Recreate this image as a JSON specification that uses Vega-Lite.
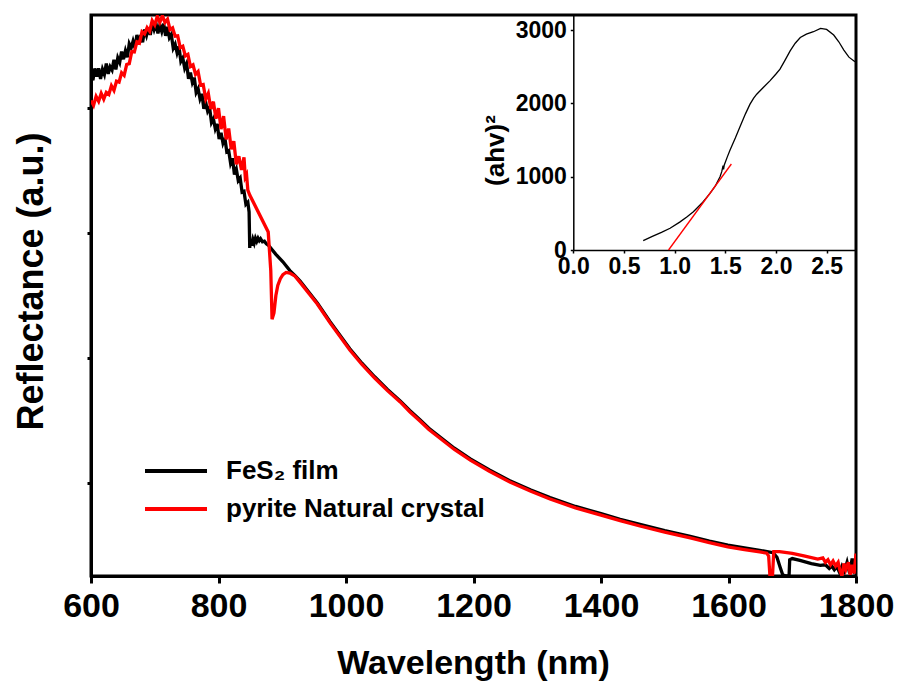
{
"$schema": "https://vega.github.io/schema/vega-lite/v6.json",
"width": 765, "height": 561,
"autosize": {"type": "none"},
"padding": {"left": 91, "top": 15, "right": 42, "bottom": 111},
"background": "white",
"config": {
  "font": "Liberation Sans",
  "view": {"stroke": "black", "strokeWidth": 3},
  "axis": {"domainColor": "black", "tickColor": "black", "labelColor": "black", "titleColor": "black", "grid": false}
},
"datasets": {
"main": [
{"sample":"FeS₂ film","wavelength":600,"reflectance":4.291},{"sample":"FeS₂ film","wavelength":603,"reflectance":4.226},{"sample":"FeS₂ film","wavelength":606,"reflectance":4.321},{"sample":"FeS₂ film","wavelength":609,"reflectance":4.256},{"sample":"FeS₂ film","wavelength":612,"reflectance":4.322},{"sample":"FeS₂ film","wavelength":615,"reflectance":4.238},{"sample":"FeS₂ film","wavelength":618,"reflectance":4.315},{"sample":"FeS₂ film","wavelength":621,"reflectance":4.273},{"sample":"FeS₂ film","wavelength":624,"reflectance":4.360},{"sample":"FeS₂ film","wavelength":627,"reflectance":4.278},{"sample":"FeS₂ film","wavelength":630,"reflectance":4.335},{"sample":"FeS₂ film","wavelength":633,"reflectance":4.308},{"sample":"FeS₂ film","wavelength":636,"reflectance":4.391},{"sample":"FeS₂ film","wavelength":639,"reflectance":4.313},{"sample":"FeS₂ film","wavelength":642,"reflectance":4.406},{"sample":"FeS₂ film","wavelength":645,"reflectance":4.369},{"sample":"FeS₂ film","wavelength":648,"reflectance":4.457},{"sample":"FeS₂ film","wavelength":651,"reflectance":4.395},{"sample":"FeS₂ film","wavelength":654,"reflectance":4.463},{"sample":"FeS₂ film","wavelength":657,"reflectance":4.411},{"sample":"FeS₂ film","wavelength":660,"reflectance":4.519},{"sample":"FeS₂ film","wavelength":663,"reflectance":4.485},{"sample":"FeS₂ film","wavelength":666,"reflectance":4.540},{"sample":"FeS₂ film","wavelength":669,"reflectance":4.485},{"sample":"FeS₂ film","wavelength":672,"reflectance":4.590},{"sample":"FeS₂ film","wavelength":675,"reflectance":4.525},{"sample":"FeS₂ film","wavelength":678,"reflectance":4.589},{"sample":"FeS₂ film","wavelength":681,"reflectance":4.531},{"sample":"FeS₂ film","wavelength":684,"reflectance":4.633},{"sample":"FeS₂ film","wavelength":687,"reflectance":4.586},{"sample":"FeS₂ film","wavelength":690,"reflectance":4.648},{"sample":"FeS₂ film","wavelength":693,"reflectance":4.590},{"sample":"FeS₂ film","wavelength":696,"reflectance":4.687},{"sample":"FeS₂ film","wavelength":699,"reflectance":4.633},{"sample":"FeS₂ film","wavelength":702,"reflectance":4.680},{"sample":"FeS₂ film","wavelength":705,"reflectance":4.603},{"sample":"FeS₂ film","wavelength":708,"reflectance":4.670},{"sample":"FeS₂ film","wavelength":711,"reflectance":4.618},{"sample":"FeS₂ film","wavelength":714,"reflectance":4.680},{"sample":"FeS₂ film","wavelength":717,"reflectance":4.583},{"sample":"FeS₂ film","wavelength":720,"reflectance":4.655},{"sample":"FeS₂ film","wavelength":723,"reflectance":4.568},{"sample":"FeS₂ film","wavelength":726,"reflectance":4.593},{"sample":"FeS₂ film","wavelength":729,"reflectance":4.484},{"sample":"FeS₂ film","wavelength":732,"reflectance":4.516},{"sample":"FeS₂ film","wavelength":735,"reflectance":4.447},{"sample":"FeS₂ film","wavelength":738,"reflectance":4.498},{"sample":"FeS₂ film","wavelength":741,"reflectance":4.378},{"sample":"FeS₂ film","wavelength":744,"reflectance":4.405},{"sample":"FeS₂ film","wavelength":747,"reflectance":4.323},{"sample":"FeS₂ film","wavelength":750,"reflectance":4.360},{"sample":"FeS₂ film","wavelength":753,"reflectance":4.239},{"sample":"FeS₂ film","wavelength":756,"reflectance":4.289},{"sample":"FeS₂ film","wavelength":759,"reflectance":4.209},{"sample":"FeS₂ film","wavelength":762,"reflectance":4.248},{"sample":"FeS₂ film","wavelength":765,"reflectance":4.128},{"sample":"FeS₂ film","wavelength":768,"reflectance":4.158},{"sample":"FeS₂ film","wavelength":771,"reflectance":4.078},{"sample":"FeS₂ film","wavelength":774,"reflectance":4.118},{"sample":"FeS₂ film","wavelength":777,"reflectance":3.998},{"sample":"FeS₂ film","wavelength":780,"reflectance":4.048},{"sample":"FeS₂ film","wavelength":783,"reflectance":3.978},{"sample":"FeS₂ film","wavelength":786,"reflectance":4.008},{"sample":"FeS₂ film","wavelength":789,"reflectance":3.888},{"sample":"FeS₂ film","wavelength":792,"reflectance":3.918},{"sample":"FeS₂ film","wavelength":795,"reflectance":3.837},{"sample":"FeS₂ film","wavelength":798,"reflectance":3.876},{"sample":"FeS₂ film","wavelength":801,"reflectance":3.756},{"sample":"FeS₂ film","wavelength":804,"reflectance":3.805},{"sample":"FeS₂ film","wavelength":807,"reflectance":3.724},{"sample":"FeS₂ film","wavelength":810,"reflectance":3.764},{"sample":"FeS₂ film","wavelength":813,"reflectance":3.653},{"sample":"FeS₂ film","wavelength":816,"reflectance":3.662},{"sample":"FeS₂ film","wavelength":819,"reflectance":3.561},{"sample":"FeS₂ film","wavelength":822,"reflectance":3.601},{"sample":"FeS₂ film","wavelength":825,"reflectance":3.471},{"sample":"FeS₂ film","wavelength":828,"reflectance":3.512},{"sample":"FeS₂ film","wavelength":831,"reflectance":3.422},{"sample":"FeS₂ film","wavelength":834,"reflectance":3.443},{"sample":"FeS₂ film","wavelength":837,"reflectance":3.329},{"sample":"FeS₂ film","wavelength":840,"reflectance":3.335},{"sample":"FeS₂ film","wavelength":843,"reflectance":3.231},{"sample":"FeS₂ film","wavelength":846,"reflectance":3.248},{"sample":"FeS₂ film","wavelength":848,"reflectance":3.170},{"sample":"FeS₂ film","wavelength":849,"reflectance":2.881},{"sample":"FeS₂ film","wavelength":850,"reflectance":2.95},{"sample":"FeS₂ film","wavelength":852,"reflectance":2.90},{"sample":"FeS₂ film","wavelength":854,"reflectance":2.95},{"sample":"FeS₂ film","wavelength":856,"reflectance":2.92},{"sample":"FeS₂ film","wavelength":858,"reflectance":2.96},{"sample":"FeS₂ film","wavelength":860,"reflectance":2.935},{"sample":"FeS₂ film","wavelength":862,"reflectance":2.96},{"sample":"FeS₂ film","wavelength":864,"reflectance":2.94},{"sample":"FeS₂ film","wavelength":866,"reflectance":2.955},{"sample":"FeS₂ film","wavelength":869,"reflectance":2.93},{"sample":"FeS₂ film","wavelength":872,"reflectance":2.935},{"sample":"FeS₂ film","wavelength":875,"reflectance":2.915},{"sample":"FeS₂ film","wavelength":878,"reflectance":2.905},{"sample":"FeS₂ film","wavelength":890,"reflectance":2.83},{"sample":"FeS₂ film","wavelength":901,"reflectance":2.77},{"sample":"FeS₂ film","wavelength":912,"reflectance":2.70},{"sample":"FeS₂ film","wavelength":920,"reflectance":2.66},{"sample":"FeS₂ film","wavelength":928,"reflectance":2.615},{"sample":"FeS₂ film","wavelength":955,"reflectance":2.44},{"sample":"FeS₂ film","wavelength":975,"reflectance":2.29},{"sample":"FeS₂ film","wavelength":1006,"reflectance":2.073},{"sample":"FeS₂ film","wavelength":1025,"reflectance":1.957},{"sample":"FeS₂ film","wavelength":1045,"reflectance":1.848},{"sample":"FeS₂ film","wavelength":1065,"reflectance":1.747},{"sample":"FeS₂ film","wavelength":1085,"reflectance":1.655},{"sample":"FeS₂ film","wavelength":1100,"reflectance":1.578},{"sample":"FeS₂ film","wavelength":1116,"reflectance":1.503},{"sample":"FeS₂ film","wavelength":1130,"reflectance":1.435},{"sample":"FeS₂ film","wavelength":1147,"reflectance":1.366},{"sample":"FeS₂ film","wavelength":1170,"reflectance":1.275},{"sample":"FeS₂ film","wavelength":1195,"reflectance":1.19},{"sample":"FeS₂ film","wavelength":1225,"reflectance":1.10},{"sample":"FeS₂ film","wavelength":1257,"reflectance":1.014},{"sample":"FeS₂ film","wavelength":1290,"reflectance":0.94},{"sample":"FeS₂ film","wavelength":1320,"reflectance":0.879},{"sample":"FeS₂ film","wavelength":1360,"reflectance":0.808},{"sample":"FeS₂ film","wavelength":1400,"reflectance":0.75},{"sample":"FeS₂ film","wavelength":1430,"reflectance":0.705},{"sample":"FeS₂ film","wavelength":1461,"reflectance":0.664},{"sample":"FeS₂ film","wavelength":1500,"reflectance":0.614},{"sample":"FeS₂ film","wavelength":1540,"reflectance":0.568},{"sample":"FeS₂ film","wavelength":1570,"reflectance":0.53},{"sample":"FeS₂ film","wavelength":1599,"reflectance":0.497},{"sample":"FeS₂ film","wavelength":1625,"reflectance":0.475},{"sample":"FeS₂ film","wavelength":1649,"reflectance":0.456},{"sample":"FeS₂ film","wavelength":1670,"reflectance":0.437},{"sample":"FeS₂ film","wavelength":1676,"reflectance":0.40},{"sample":"FeS₂ film","wavelength":1681,"reflectance":0.32},{"sample":"FeS₂ film","wavelength":1685,"reflectance":0.26},{"sample":"FeS₂ film","wavelength":1690,"reflectance":0.25},{"sample":"FeS₂ film","wavelength":1695,"reflectance":0.25},{"sample":"FeS₂ film","wavelength":1696,"reflectance":0.38},{"sample":"FeS₂ film","wavelength":1700,"reflectance":0.39},{"sample":"FeS₂ film","wavelength":1712,"reflectance":0.375},{"sample":"FeS₂ film","wavelength":1730,"reflectance":0.35},{"sample":"FeS₂ film","wavelength":1744,"reflectance":0.335},{"sample":"FeS₂ film","wavelength":1752,"reflectance":0.34},{"sample":"FeS₂ film","wavelength":1758,"reflectance":0.31},{"sample":"FeS₂ film","wavelength":1762,"reflectance":0.33},{"sample":"FeS₂ film","wavelength":1766,"reflectance":0.30},{"sample":"FeS₂ film","wavelength":1770,"reflectance":0.325},{"sample":"FeS₂ film","wavelength":1774,"reflectance":0.28},{"sample":"FeS₂ film","wavelength":1778,"reflectance":0.33},{"sample":"FeS₂ film","wavelength":1782,"reflectance":0.29},{"sample":"FeS₂ film","wavelength":1786,"reflectance":0.36},{"sample":"FeS₂ film","wavelength":1790,"reflectance":0.27},{"sample":"FeS₂ film","wavelength":1794,"reflectance":0.39},{"sample":"FeS₂ film","wavelength":1797,"reflectance":0.30},{"sample":"FeS₂ film","wavelength":1800,"reflectance":0.33},
{"sample":"pyrite Natural crystal","wavelength":600,"reflectance":4.064},{"sample":"pyrite Natural crystal","wavelength":604,"reflectance":4.025},{"sample":"pyrite Natural crystal","wavelength":608,"reflectance":4.097},{"sample":"pyrite Natural crystal","wavelength":612,"reflectance":4.058},{"sample":"pyrite Natural crystal","wavelength":616,"reflectance":4.121},{"sample":"pyrite Natural crystal","wavelength":620,"reflectance":4.075},{"sample":"pyrite Natural crystal","wavelength":624,"reflectance":4.129},{"sample":"pyrite Natural crystal","wavelength":628,"reflectance":4.113},{"sample":"pyrite Natural crystal","wavelength":632,"reflectance":4.182},{"sample":"pyrite Natural crystal","wavelength":636,"reflectance":4.145},{"sample":"pyrite Natural crystal","wavelength":640,"reflectance":4.219},{"sample":"pyrite Natural crystal","wavelength":644,"reflectance":4.212},{"sample":"pyrite Natural crystal","wavelength":648,"reflectance":4.287},{"sample":"pyrite Natural crystal","wavelength":652,"reflectance":4.265},{"sample":"pyrite Natural crystal","wavelength":656,"reflectance":4.353},{"sample":"pyrite Natural crystal","wavelength":660,"reflectance":4.360},{"sample":"pyrite Natural crystal","wavelength":664,"reflectance":4.457},{"sample":"pyrite Natural crystal","wavelength":668,"reflectance":4.454},{"sample":"pyrite Natural crystal","wavelength":672,"reflectance":4.535},{"sample":"pyrite Natural crystal","wavelength":676,"reflectance":4.525},{"sample":"pyrite Natural crystal","wavelength":680,"reflectance":4.615},{"sample":"pyrite Natural crystal","wavelength":684,"reflectance":4.597},{"sample":"pyrite Natural crystal","wavelength":688,"reflectance":4.649},{"sample":"pyrite Natural crystal","wavelength":692,"reflectance":4.620},{"sample":"pyrite Natural crystal","wavelength":696,"reflectance":4.705},{"sample":"pyrite Natural crystal","wavelength":700,"reflectance":4.670},{"sample":"pyrite Natural crystal","wavelength":704,"reflectance":4.740},{"sample":"pyrite Natural crystal","wavelength":708,"reflectance":4.691},{"sample":"pyrite Natural crystal","wavelength":712,"reflectance":4.745},{"sample":"pyrite Natural crystal","wavelength":716,"reflectance":4.690},{"sample":"pyrite Natural crystal","wavelength":720,"reflectance":4.716},{"sample":"pyrite Natural crystal","wavelength":724,"reflectance":4.632},{"sample":"pyrite Natural crystal","wavelength":728,"reflectance":4.646},{"sample":"pyrite Natural crystal","wavelength":732,"reflectance":4.580},{"sample":"pyrite Natural crystal","wavelength":736,"reflectance":4.583},{"sample":"pyrite Natural crystal","wavelength":740,"reflectance":4.487},{"sample":"pyrite Natural crystal","wavelength":744,"reflectance":4.499},{"sample":"pyrite Natural crystal","wavelength":748,"reflectance":4.421},{"sample":"pyrite Natural crystal","wavelength":752,"reflectance":4.434},{"sample":"pyrite Natural crystal","wavelength":756,"reflectance":4.337},{"sample":"pyrite Natural crystal","wavelength":760,"reflectance":4.350},{"sample":"pyrite Natural crystal","wavelength":764,"reflectance":4.273},{"sample":"pyrite Natural crystal","wavelength":768,"reflectance":4.296},{"sample":"pyrite Natural crystal","wavelength":772,"reflectance":4.187},{"sample":"pyrite Natural crystal","wavelength":776,"reflectance":4.192},{"sample":"pyrite Natural crystal","wavelength":780,"reflectance":4.076},{"sample":"pyrite Natural crystal","wavelength":784,"reflectance":4.121},{"sample":"pyrite Natural crystal","wavelength":788,"reflectance":3.996},{"sample":"pyrite Natural crystal","wavelength":792,"reflectance":4.055},{"sample":"pyrite Natural crystal","wavelength":796,"reflectance":3.918},{"sample":"pyrite Natural crystal","wavelength":800,"reflectance":4.002},{"sample":"pyrite Natural crystal","wavelength":804,"reflectance":3.835},{"sample":"pyrite Natural crystal","wavelength":808,"reflectance":3.939},{"sample":"pyrite Natural crystal","wavelength":812,"reflectance":3.752},{"sample":"pyrite Natural crystal","wavelength":816,"reflectance":3.839},{"sample":"pyrite Natural crystal","wavelength":820,"reflectance":3.673},{"sample":"pyrite Natural crystal","wavelength":824,"reflectance":3.737},{"sample":"pyrite Natural crystal","wavelength":828,"reflectance":3.552},{"sample":"pyrite Natural crystal","wavelength":832,"reflectance":3.616},{"sample":"pyrite Natural crystal","wavelength":836,"reflectance":3.507},{"sample":"pyrite Natural crystal","wavelength":840,"reflectance":3.609},{"sample":"pyrite Natural crystal","wavelength":842,"reflectance":3.45},{"sample":"pyrite Natural crystal","wavelength":844,"reflectance":3.470},{"sample":"pyrite Natural crystal","wavelength":846,"reflectance":3.346},{"sample":"pyrite Natural crystal","wavelength":849,"reflectance":3.306},{"sample":"pyrite Natural crystal","wavelength":878,"reflectance":3.009},{"sample":"pyrite Natural crystal","wavelength":882,"reflectance":2.70},{"sample":"pyrite Natural crystal","wavelength":884,"reflectance":2.31},{"sample":"pyrite Natural crystal","wavelength":887,"reflectance":2.36},{"sample":"pyrite Natural crystal","wavelength":890,"reflectance":2.50},{"sample":"pyrite Natural crystal","wavelength":893,"reflectance":2.58},{"sample":"pyrite Natural crystal","wavelength":897,"reflectance":2.635},{"sample":"pyrite Natural crystal","wavelength":901,"reflectance":2.668},{"sample":"pyrite Natural crystal","wavelength":906,"reflectance":2.685},{"sample":"pyrite Natural crystal","wavelength":912,"reflectance":2.68},{"sample":"pyrite Natural crystal","wavelength":920,"reflectance":2.655},{"sample":"pyrite Natural crystal","wavelength":928,"reflectance":2.605},{"sample":"pyrite Natural crystal","wavelength":955,"reflectance":2.432},{"sample":"pyrite Natural crystal","wavelength":975,"reflectance":2.28},{"sample":"pyrite Natural crystal","wavelength":1006,"reflectance":2.063},{"sample":"pyrite Natural crystal","wavelength":1025,"reflectance":1.947},{"sample":"pyrite Natural crystal","wavelength":1045,"reflectance":1.838},{"sample":"pyrite Natural crystal","wavelength":1065,"reflectance":1.737},{"sample":"pyrite Natural crystal","wavelength":1085,"reflectance":1.646},{"sample":"pyrite Natural crystal","wavelength":1100,"reflectance":1.568},{"sample":"pyrite Natural crystal","wavelength":1116,"reflectance":1.493},{"sample":"pyrite Natural crystal","wavelength":1130,"reflectance":1.425},{"sample":"pyrite Natural crystal","wavelength":1147,"reflectance":1.357},{"sample":"pyrite Natural crystal","wavelength":1170,"reflectance":1.265},{"sample":"pyrite Natural crystal","wavelength":1195,"reflectance":1.180},{"sample":"pyrite Natural crystal","wavelength":1225,"reflectance":1.09},{"sample":"pyrite Natural crystal","wavelength":1257,"reflectance":1.004},{"sample":"pyrite Natural crystal","wavelength":1290,"reflectance":0.93},{"sample":"pyrite Natural crystal","wavelength":1320,"reflectance":0.868},{"sample":"pyrite Natural crystal","wavelength":1360,"reflectance":0.797},{"sample":"pyrite Natural crystal","wavelength":1400,"reflectance":0.739},{"sample":"pyrite Natural crystal","wavelength":1430,"reflectance":0.694},{"sample":"pyrite Natural crystal","wavelength":1461,"reflectance":0.651},{"sample":"pyrite Natural crystal","wavelength":1500,"reflectance":0.602},{"sample":"pyrite Natural crystal","wavelength":1540,"reflectance":0.555},{"sample":"pyrite Natural crystal","wavelength":1570,"reflectance":0.518},{"sample":"pyrite Natural crystal","wavelength":1599,"reflectance":0.483},{"sample":"pyrite Natural crystal","wavelength":1625,"reflectance":0.462},{"sample":"pyrite Natural crystal","wavelength":1649,"reflectance":0.443},{"sample":"pyrite Natural crystal","wavelength":1660,"reflectance":0.433},{"sample":"pyrite Natural crystal","wavelength":1663,"reflectance":0.41},{"sample":"pyrite Natural crystal","wavelength":1665,"reflectance":0.25},{"sample":"pyrite Natural crystal","wavelength":1669,"reflectance":0.25},{"sample":"pyrite Natural crystal","wavelength":1671,"reflectance":0.445},{"sample":"pyrite Natural crystal","wavelength":1680,"reflectance":0.445},{"sample":"pyrite Natural crystal","wavelength":1700,"reflectance":0.432},{"sample":"pyrite Natural crystal","wavelength":1720,"reflectance":0.41},{"sample":"pyrite Natural crystal","wavelength":1740,"reflectance":0.385},{"sample":"pyrite Natural crystal","wavelength":1748,"reflectance":0.395},{"sample":"pyrite Natural crystal","wavelength":1752,"reflectance":0.36},{"sample":"pyrite Natural crystal","wavelength":1756,"reflectance":0.38},{"sample":"pyrite Natural crystal","wavelength":1760,"reflectance":0.34},{"sample":"pyrite Natural crystal","wavelength":1764,"reflectance":0.37},{"sample":"pyrite Natural crystal","wavelength":1768,"reflectance":0.33},{"sample":"pyrite Natural crystal","wavelength":1772,"reflectance":0.36},{"sample":"pyrite Natural crystal","wavelength":1775,"reflectance":0.29},{"sample":"pyrite Natural crystal","wavelength":1778,"reflectance":0.25},{"sample":"pyrite Natural crystal","wavelength":1781,"reflectance":0.35},{"sample":"pyrite Natural crystal","wavelength":1784,"reflectance":0.30},{"sample":"pyrite Natural crystal","wavelength":1788,"reflectance":0.36},{"sample":"pyrite Natural crystal","wavelength":1791,"reflectance":0.26},{"sample":"pyrite Natural crystal","wavelength":1794,"reflectance":0.34},{"sample":"pyrite Natural crystal","wavelength":1797,"reflectance":0.27},{"sample":"pyrite Natural crystal","wavelength":1800,"reflectance":0.43}
],
"inset": [
{"energy":0.69,"ahv2":127},{"energy":0.78,"ahv2":185},{"energy":0.87,"ahv2":240},{"energy":0.955,"ahv2":296},{"energy":1.05,"ahv2":380},{"energy":1.12,"ahv2":450},{"energy":1.185,"ahv2":522},{"energy":1.27,"ahv2":640},{"energy":1.349,"ahv2":773},{"energy":1.40,"ahv2":870},{"energy":1.448,"ahv2":1000},{"energy":1.465,"ahv2":1068},{"energy":1.478,"ahv2":1150},{"energy":1.483,"ahv2":1100},{"energy":1.49,"ahv2":1160},{"energy":1.52,"ahv2":1270},{"energy":1.547,"ahv2":1364},{"energy":1.60,"ahv2":1530},{"energy":1.645,"ahv2":1682},{"energy":1.70,"ahv2":1860},{"energy":1.744,"ahv2":1989},{"energy":1.78,"ahv2":2070},{"energy":1.81,"ahv2":2125},{"energy":1.87,"ahv2":2210},{"energy":1.94,"ahv2":2307},{"energy":2.00,"ahv2":2400},{"energy":2.04,"ahv2":2466},{"energy":2.09,"ahv2":2590},{"energy":2.14,"ahv2":2716},{"energy":2.19,"ahv2":2820},{"energy":2.24,"ahv2":2898},{"energy":2.30,"ahv2":2945},{"energy":2.37,"ahv2":2977},{"energy":2.44,"ahv2":3023},{"energy":2.50,"ahv2":3009},{"energy":2.57,"ahv2":2932},{"energy":2.62,"ahv2":2840},{"energy":2.67,"ahv2":2727},{"energy":2.72,"ahv2":2630},{"energy":2.78,"ahv2":2568}
],
"fit": [
{"energy":0.94,"ahv2":0},{"energy":1.56,"ahv2":1173}
]
},
"layer": [
{
  "data": {"name": "main"},
  "mark": {"type": "line", "strokeWidth": 3.3, "clip": true},
  "encoding": {
    "x": {"field": "wavelength", "type": "quantitative",
      "scale": {"domain": [600, 1800], "nice": false, "zero": false},
      "axis": {"orient": "bottom", "values": [600, 800, 1000, 1200, 1400, 1600, 1800], "format": "d",
        "domainWidth": 3, "tickSize": 7, "tickWidth": 3, "labelFontSize": 34, "labelFontWeight": "bold", "labelPadding": 6, "labelFlush": false,
        "title": "Wavelength (nm)", "titleFontSize": 34, "titleFontWeight": "bold", "titleX": 382, "titleY": 97, "titleAlign": "center", "titleBaseline": "alphabetic"}},
    "y": {"field": "reflectance", "type": "quantitative",
      "scale": {"domain": [0.25, 4.75], "nice": false, "zero": false},
      "axis": {"orient": "left", "values": [1, 2, 3, 4], "labels": false, "domainWidth": 3, "tickSize": 4, "tickWidth": 3,
        "title": "Reflectance (a.u.)", "titleFontSize": 36, "titleFontWeight": "bold", "titleX": -49, "titleY": 266, "titleAngle": -90, "titleAlign": "center", "titleBaseline": "alphabetic"}},
    "color": {"field": "sample", "type": "nominal",
      "scale": {"domain": ["FeS₂ film", "pyrite Natural crystal"], "range": ["#000000", "#ff0000"]},
      "legend": {"orient": "none", "legendX": 63, "legendY": 434, "title": null, "padding": 0,
        "symbolType": "M-1.55,0H1.55", "symbolSize": 1600, "symbolStrokeWidth": 4,
        "labelFontSize": 26, "labelFontWeight": "bold", "labelFont": "Liberation Sans", "labelColor": "black", "labelOffset": 28, "labelLimit": 500, "rowPadding": 3}}
  }
},
{
  "layer": [
    {
      "data": {"name": "inset"},
      "mark": {"type": "line", "color": "black", "strokeWidth": 1.3},
      "encoding": {
        "x": {"field": "energy", "type": "quantitative",
          "scale": {"domain": [0, 2.78], "range": [482.3, 764], "nice": false, "zero": false},
          "axis": {"orient": "bottom", "offset": -326, "values": [0, 0.5, 1, 1.5, 2, 2.5], "format": ".1f",
            "domainWidth": 1.5, "tickSize": 3, "tickWidth": 1.5, "labelFontSize": 23, "labelFontWeight": "bold", "labelPadding": 2, "labelFlush": false, "title": null}},
        "y": {"field": "ahv2", "type": "quantitative",
          "scale": {"domain": [0, 3205], "range": [235, 0], "nice": false, "zero": false},
          "axis": {"orient": "left", "offset": -482.3, "values": [0, 1000, 2000, 3000], "format": "d",
            "domainWidth": 1.5, "tickSize": 3, "tickWidth": 1.5, "labelFontSize": 23, "labelFontWeight": "bold", "labelPadding": 4, "labelFlush": false,
            "title": "(ahv)²", "titleFontSize": 26, "titleFontWeight": "bold", "titleX": -70, "titleY": 135, "titleAngle": -90, "titleAlign": "center", "titleBaseline": "alphabetic"}}
      }
    },
    {
      "data": {"name": "fit"},
      "mark": {"type": "line", "color": "#ff0000", "strokeWidth": 1.3},
      "encoding": {
        "x": {"field": "energy", "type": "quantitative"},
        "y": {"field": "ahv2", "type": "quantitative"}
      }
    }
  ]
}
],
"resolve": {"scale": {"x": "independent", "y": "independent"}, "axis": {"x": "independent", "y": "independent"}}
}
